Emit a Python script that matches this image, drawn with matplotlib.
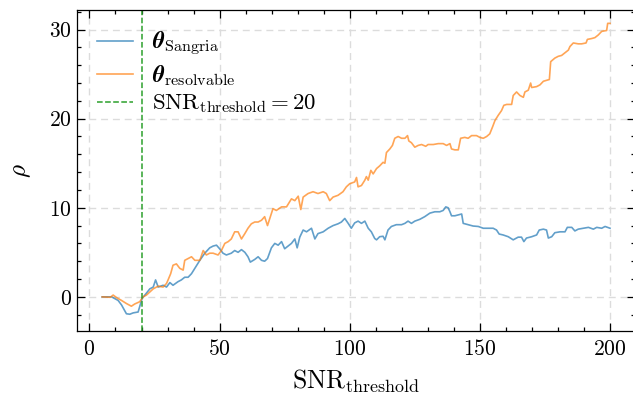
import matplotlib
matplotlib.use("Agg")
import matplotlib.pyplot as plt
from matplotlib.ticker import MultipleLocator

# ---- data ----
snr_sangria = [4.9, 8.5, 11.0, 12.3, 14.2, 15.5, 16.8, 18.7, 19.3, 20.2, 21.3, 23.2, 24.5, 25.4, 26.4,
               28.3, 29.6, 30.9, 32.1, 34.0, 35.3, 36.6, 37.9, 39.2, 40.5, 42.4, 44.3, 46.2, 47.5,
               48.8, 50.0, 51.3, 52.6, 54.5, 55.8, 57.1, 58.4, 59.7, 60.9, 61.8, 63.5, 64.8, 66.1,
               67.3, 68.4, 69.9, 71.2, 72.5, 73.8, 75.0, 76.3, 77.6, 78.9, 79.8, 80.8, 82.1, 83.4,
               85.3, 86.6, 87.8, 89.8, 91.7, 93.6, 95.5, 96.8, 98.1, 99.4, 100.6, 101.9, 103.2,
               104.5, 105.8, 107.1, 108.3, 109.6, 110.3, 111.5, 112.8, 113.5, 114.7, 116.0, 117.9,
               119.9, 121.2, 122.4, 123.7, 125.0, 126.9, 128.8, 130.8, 132.7, 134.6, 135.9, 136.9,
               137.8, 138.5, 139.1, 140.4, 141.7, 143.0, 143.6, 145.5, 147.4, 149.4, 151.3, 153.2,
               155.1, 156.4, 157.4, 158.9, 160.9, 162.8, 164.7, 166.0, 166.9, 167.9, 169.9, 171.8,
               172.8, 174.4, 175.6, 176.3, 177.6, 178.8, 180.8, 182.7, 183.6, 185.3, 186.5, 187.8,
               189.7, 191.7, 193.6, 194.9, 196.8, 198.1, 200.0]
rho_sangria = [0.0, 0.0, -0.4, -0.9, -1.9, -1.95, -1.8, -1.7, -1.1, -0.2, 0.2, 0.9, 1.1, 1.9, 1.1,
               1.3, 1.1, 1.6, 1.3, 1.7, 1.9, 2.2, 2.2, 2.6, 3.2, 4.1, 4.9, 5.5, 5.7,
               5.8, 5.4, 4.9, 4.7, 4.9, 5.2, 5.0, 5.3, 5.0, 4.5, 3.9, 4.2, 4.5, 4.1,
               4.0, 4.3, 5.5, 6.0, 5.8, 6.2, 5.4, 5.7, 6.0, 6.5, 5.5, 6.7, 7.5, 7.3,
               7.7, 6.5, 7.1, 7.3, 7.7, 8.0, 8.2, 8.4, 8.8, 8.25, 7.7, 8.3, 8.5,
               8.25, 8.5, 7.7, 7.3, 6.55, 6.4, 6.75, 6.8, 6.4, 7.5, 7.9, 8.1,
               8.1, 8.25, 8.5, 8.25, 8.5, 8.7, 9.0, 9.4, 9.55, 9.55, 9.7, 10.1,
               10.0, 9.55, 9.1, 9.1, 9.2, 9.3, 8.25, 8.1, 7.95, 7.9, 7.7, 7.7,
               7.7, 7.5, 7.05, 6.95, 6.75, 6.4, 6.7, 6.7, 6.2, 6.6, 6.75, 6.95,
               7.5, 7.6, 7.5, 6.6, 6.75, 7.2, 7.3, 7.3, 7.8, 7.8, 7.4, 7.6,
               7.7, 7.8, 7.6, 7.8, 7.7, 7.9, 7.7]

snr_resolvable = [4.9, 8.0, 9.1, 10.5, 12.3, 14.2, 16.1, 17.4, 19.3, 20.6, 21.9, 23.2, 24.5, 26.4,
                  28.3, 29.6, 30.2, 31.2, 32.1, 33.4, 34.7, 36.0, 36.6, 37.9, 39.2, 40.5, 42.4,
                  43.7, 44.9, 46.2, 47.5, 49.4, 50.7, 52.0, 53.3, 54.5, 55.8, 57.1, 58.4, 59.7,
                  60.9, 62.2, 63.5, 64.8, 66.1, 67.3, 68.4, 69.3, 70.5, 71.8, 73.8, 75.7, 77.6,
                  78.9, 80.2, 81.2, 82.1, 84.0, 85.9, 87.8, 89.8, 91.0, 92.3, 93.6, 95.5, 97.4,
                  98.7, 100.0, 101.9, 102.6, 103.2, 104.5, 105.8, 106.4, 107.1, 108.1, 109.0,
                  110.3, 111.5, 112.8, 113.5, 114.1, 115.4, 116.4, 117.3, 118.6, 119.9, 121.2,
                  122.2, 122.7, 123.7, 125.0, 126.3, 127.6, 129.2, 130.1, 132.1, 134.0, 135.9,
                  137.2, 138.5, 139.1, 140.4, 141.7, 142.6, 144.2, 145.5, 146.8, 148.7, 150.0,
                  151.3, 152.6, 153.8, 154.9, 155.8, 157.1, 158.3, 159.2, 160.3, 162.2, 162.8,
                  164.1, 165.4, 166.7, 167.3, 168.6, 169.5, 169.9, 171.8, 173.1, 174.4, 175.6,
                  176.7, 177.2, 178.8, 180.1, 181.4, 182.7, 184.0, 184.6, 185.9, 187.8, 189.1,
                  190.8, 191.3, 193.0, 194.2, 195.5, 196.8, 198.7, 199.1, 200.0]
rho_resolvable = [0.0, -0.05, 0.2, -0.1, -0.4, -0.75, -1.05, -0.8, -0.55, 0.0, 0.2, 0.55, 0.9, 1.2,
                  1.1, 1.5, 1.9, 2.6, 3.55, 3.7, 3.2, 3.0, 4.1, 4.3, 4.5, 4.1, 4.1,
                  5.2, 4.7, 4.9, 4.9, 4.7, 5.2, 6.0, 6.2, 6.5, 7.3, 7.3, 6.5, 7.1,
                  7.7, 8.2, 8.4, 8.4, 8.6, 9.0, 8.0, 8.8, 9.9, 9.7, 10.1, 10.1, 11.0,
                  10.8, 11.3, 9.8, 11.2, 11.6, 11.8, 11.6, 11.8, 11.6, 10.8, 11.2, 11.4, 11.8,
                  12.35, 12.7, 12.9, 13.4, 12.35, 12.5, 13.1, 13.5, 13.1, 14.2, 13.8,
                  14.4, 14.7, 15.1, 15.0, 16.2, 16.6, 17.0, 17.8, 18.0, 17.8, 17.8,
                  18.1, 17.5, 17.3, 16.8, 17.0, 17.1, 16.9, 17.1, 17.1, 17.2, 17.2,
                  17.0, 17.2, 16.6, 16.5, 16.5, 17.8, 17.9, 17.8, 18.1, 18.1, 17.9,
                  17.8, 18.0, 18.3, 19.1, 19.8, 20.4, 20.9, 21.5, 21.6, 21.6, 22.6,
                  23.0, 22.6, 22.4, 23.0, 23.2, 24.0, 23.5, 23.6, 23.8, 24.2, 24.3,
                  24.4, 26.4, 26.8, 27.0, 27.1, 27.4, 27.7, 28.1, 28.5, 28.4, 28.4,
                  28.5, 28.9, 29.0, 29.1, 29.4, 29.8, 29.9, 30.7, 30.7]

snr_threshold_line = 20
x_ticks = [0, 50, 100, 150, 200]
y_ticks = [0, 10, 20, 30]
label_sangria = r"$\mathbfit{\theta}_{\mathrm{Sangria}}$"
label_resolvable = r"$\mathbfit{\theta}_{\mathrm{resolvable}}$"
label_threshold = r"$\mathrm{SNR}_{\mathrm{threshold}} = 20$"

# ---- style ----
plt.rcParams.update({
    "font.family": "serif",
    "font.serif": ["cmr10", "DejaVu Serif"],
    "mathtext.fontset": "cm",
    "axes.formatter.use_mathtext": True,
    "font.size": 15,
    "axes.linewidth": 0.9,
})

fig = plt.figure(figsize=(6.33, 4.05), dpi=100)
ax = fig.add_axes([77.1 / 633, 1 - 330.7 / 405, (635.4 - 77.1) / 633, (330.7 - 10) / 405])

ax.plot(snr_sangria, rho_sangria, color="tab:blue", alpha=0.7, lw=1.2, label=label_sangria)
ax.plot(snr_resolvable, rho_resolvable, color="tab:orange", alpha=0.7, lw=1.2, label=label_resolvable)
ax.axvline(snr_threshold_line, color="tab:green", ls="--", lw=1.1, label=label_threshold)

ax.set_xlim(-4.75, 209.75)
ax.set_ylim(-3.8, 32.2)
ax.set_xticks(x_ticks)
ax.set_yticks(y_ticks)
ax.xaxis.set_minor_locator(MultipleLocator(10))
ax.yaxis.set_minor_locator(MultipleLocator(2))
ax.tick_params(which="both", direction="in", top=True, right=True, width=0.9, labelsize=15.5)
ax.tick_params(which="major", length=5.5)
ax.tick_params(which="minor", length=2.8)
ax.tick_params(axis="x", which="major", pad=6)
ax.grid(True, which="major", ls=(0, (5, 3.5)), color="#dcdcdc", lw=1.0)

ax.set_xlabel(r"$\mathrm{SNR}_{\mathrm{threshold}}$", fontsize=18.5, labelpad=6)
ax.set_ylabel(r"$\rho$", fontsize=18, labelpad=12)

ax.legend(loc="upper left", frameon=False, fontsize=16.5, handlelength=1.6,
          handletextpad=0.8, borderaxespad=0.45, labelspacing=0.22,
          bbox_to_anchor=(0.0, 1.0))

fig.savefig("out.png", dpi=100)
